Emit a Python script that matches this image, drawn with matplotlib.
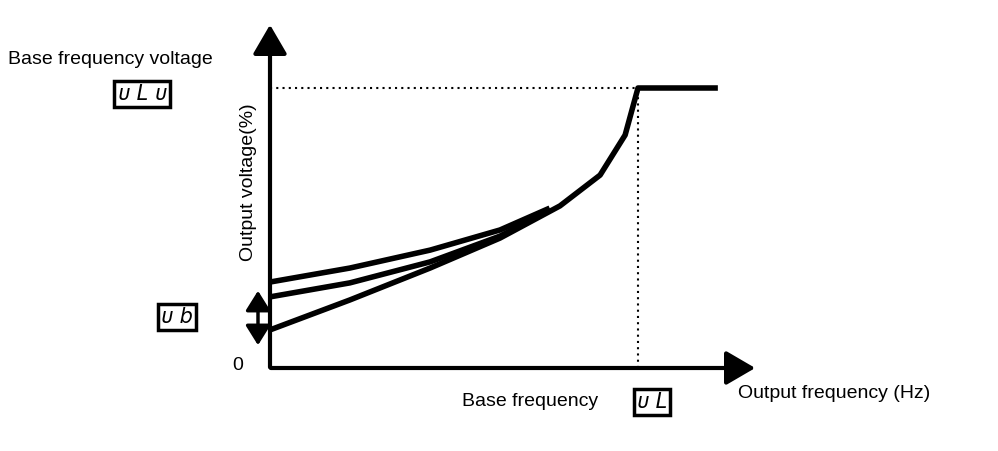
import matplotlib
matplotlib.use("Agg")
import matplotlib.pyplot as plt
from matplotlib.patches import FancyArrowPatch

# data: x = frequency relative to base frequency, y = output voltage %
c1_x = [0.0, 0.217, 0.435, 0.625, 0.76]
c1_y = [30.7, 35.7, 42.1, 49.3, 57.1]
c2_x = [0.0, 0.217, 0.435, 0.625, 0.76]
c2_y = [25.4, 30.4, 37.9, 47.1, 56.4]
c3_x = [0.0, 0.217, 0.435, 0.625, 0.788, 0.897, 0.965, 1.0, 1.217]
c3_y = [13.6, 24.3, 35.7, 46.4, 57.9, 68.9, 83.2, 100.0, 100.0]
base_f = 1.0
base_v = 100.0

plt.rcParams['font.family'] = ['Liberation Sans', 'DejaVu Sans']
fig = plt.figure(figsize=(9.98, 4.51), dpi=100)
ax = fig.add_axes([0, 0, 1, 1])
ax.set_xlim(-270/368, (998-270)/368)
ax.set_ylim((368-451)/2.8, 368/2.8)
ax.axis('off')

def px(x, y):
    return ((x-270)/368, (368-y)/2.8)

lw = 4
for xs, ys in [(c1_x, c1_y), (c2_x, c2_y), (c3_x, c3_y)]:
    ax.plot(xs, ys, color='black', lw=lw, solid_capstyle='butt', solid_joinstyle='round')

# dotted guides
ax.plot([0, base_f], [base_v, base_v], color='black', lw=1.5, ls=(0, (1, 2)))
ax.plot([base_f, base_f], [0, base_v], color='black', lw=1.5, ls=(0, (1, 2)))

# axes arrows
ax.add_patch(FancyArrowPatch(px(268, 368), px(758, 368), arrowstyle='-|>,head_length=12,head_width=7',
                             lw=3, color='black', mutation_scale=1.5))
ax.add_patch(FancyArrowPatch(px(270, 370), px(270, 22), arrowstyle='-|>,head_length=12,head_width=7',
                             lw=3, color='black', mutation_scale=1.5))
# double arrow ub
ax.add_patch(FancyArrowPatch(px(258, 348), px(258, 288), arrowstyle='<|-|>,head_length=8,head_width=5',
                             lw=2.5, color='black', mutation_scale=1.5))

fs = 14
ax.text(*px(8, 60), 'Base frequency voltage', fontsize=fs, ha='left', va='center')
ax.text(*px(248, 182), 'Output voltage(%)', fontsize=fs, rotation=90, ha='center', va='center')
ax.text(*px(238, 365), '0', fontsize=fs, ha='center', va='center')
ax.text(*px(462, 401), 'Base frequency', fontsize=fs, ha='left', va='center')
ax.text(*px(738, 393), 'Output frequency (Hz)', fontsize=fs, ha='left', va='center')

box = dict(boxstyle='square,pad=0.15', fc='white', ec='black', lw=2.5)
ax.text(*px(142, 94), 'ᴜ L ᴜ', fontsize=15, style='italic', family='DejaVu Sans', ha='center', va='center', bbox=box)
ax.text(*px(177, 317), 'ᴜ b', fontsize=15, style='italic', family='DejaVu Sans', ha='center', va='center', bbox=box)
ax.text(*px(652, 402), 'ᴜ L', fontsize=15, style='italic', family='DejaVu Sans', ha='center', va='center', bbox=box)

fig.savefig('out.png', dpi=100)
